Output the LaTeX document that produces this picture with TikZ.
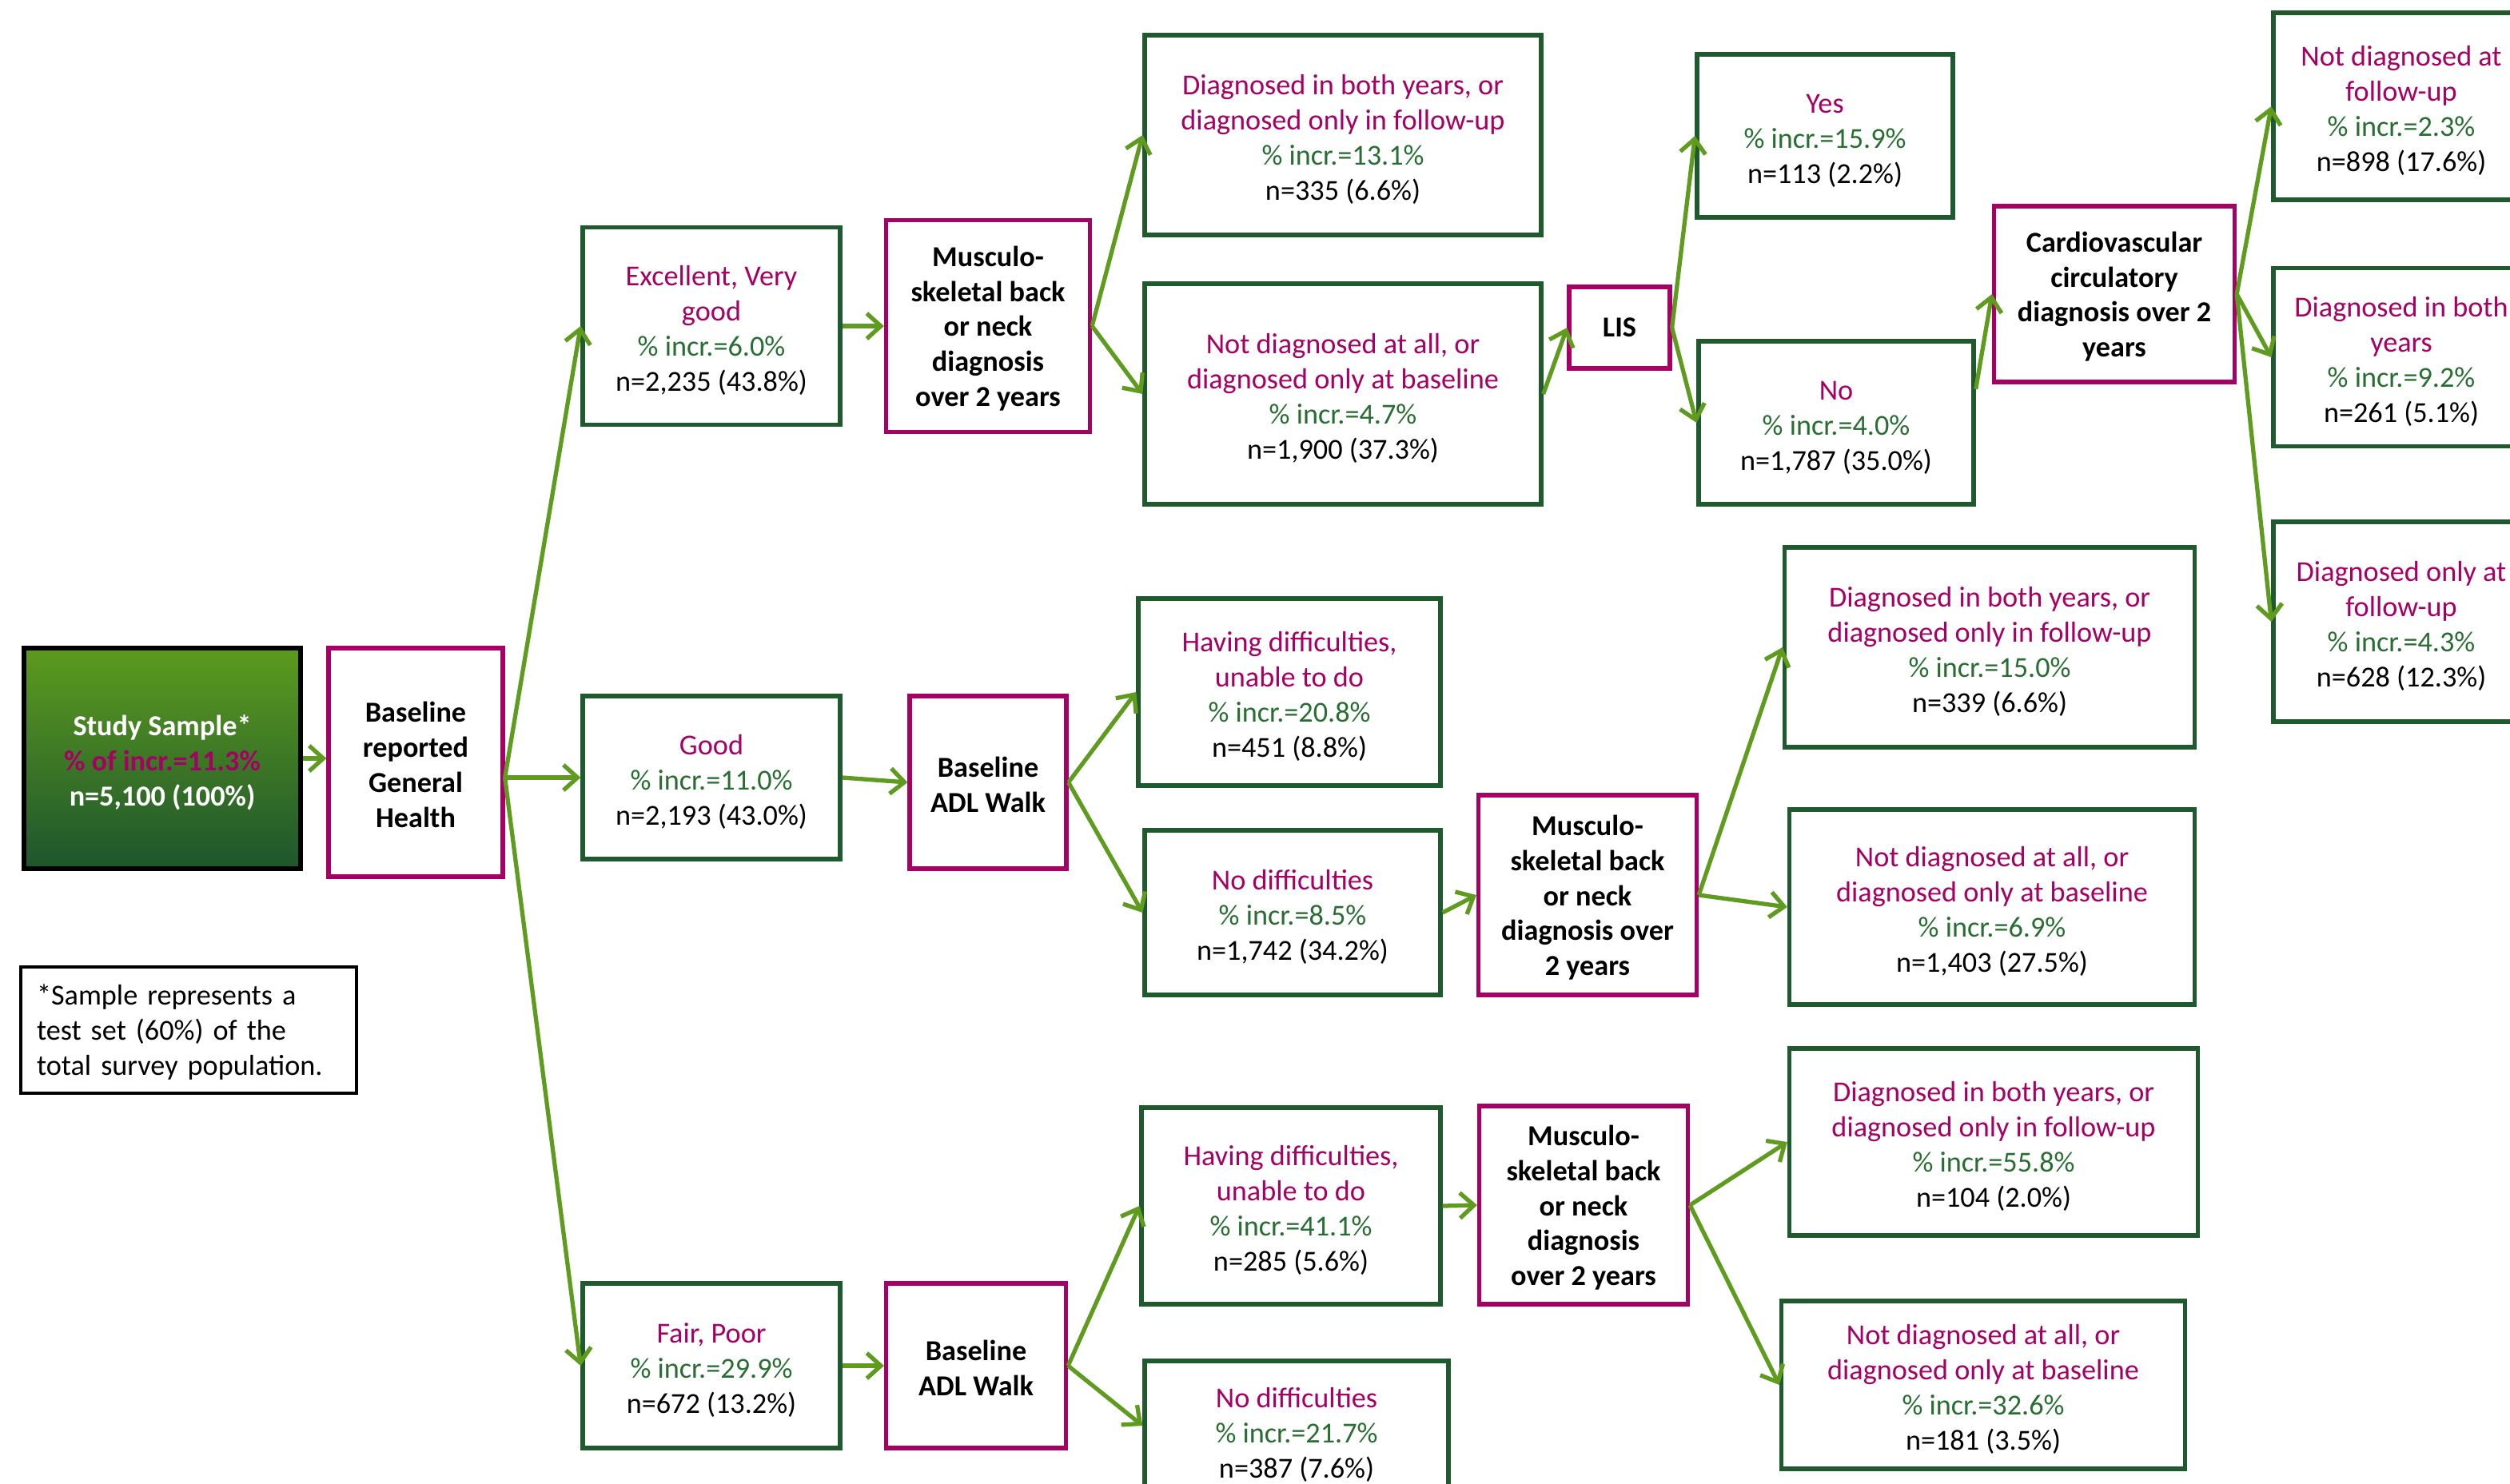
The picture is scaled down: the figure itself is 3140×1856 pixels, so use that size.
\documentclass[tikz,border=0pt]{standalone}
\usepackage{fontspec}
\setmainfont{Carlito}
\usetikzlibrary{arrows.meta,calc}
\definecolor{mag}{RGB}{165,0,100}
\definecolor{igr}{RGB}{40,110,50}
\definecolor{bgr}{RGB}{30,90,45}
\definecolor{agr}{RGB}{95,155,30}
\newcommand\mg[1]{\textcolor{mag}{\rule{0pt}{10.2pt}#1}}
\newcommand\ig[1]{\textcolor{igr}{#1}}
\newcommand\qs{\rule{0pt}{9pt}}
\begin{document}
\begin{tikzpicture}[x=0.01cm,y=-0.01cm,
 font=\fontsize{10.3}{12.5}\selectfont,
 sz/.style 2 args={minimum width=#1*0.01cm,minimum height=#2*0.01cm},
 resbox/.style={draw=bgr,line width=1.5pt,fill=white,align=center,inner sep=0pt},
 qbox/.style={draw=mag,line width=1.5pt,fill=white,align=center,inner sep=0pt,font=\fontsize{10.3}{12.5}\selectfont\bfseries},
 arr/.style={draw=agr,line width=1.5pt,-{Straight Barb[length=5pt,width=9pt]}}]
\clip (0,0) rectangle (3140,1856);
\fill[white] (0,0) rectangle (3140,1856);
% left part
\node[draw=black,line width=1.5pt,top color={rgb,255:red,92;green,155;blue,30},middle color={rgb,255:red,80;green,140;blue,32},bottom color={rgb,255:red,30;green,85;blue,45},sz={346}{276},align=center,inner sep=0pt,font=\fontsize{10.3}{12.5}\selectfont\bfseries,text=white] (study) at (203,949) {\rule{0pt}{10.2pt}Study Sample*\\\textcolor{mag}{\% of incr.=11.3\%}\\n=5,100 (100\%)};
\node[qbox,sz={218}{286}] (bgh) at (520,954) {\qs Baseline\\reported\\General\\Health};
\node[draw=black,line width=1.2pt,text width=380*0.01cm,inner xsep=20*0.01cm,inner ysep=0pt,minimum height=158*0.01cm,align=left] (foot) at (236,1289) {\rule{0pt}{9pt}*Sample represents a\\test set (60\%) of the\\total survey population.};
% first level
\node[resbox,sz={322}{247}] (exc) at (890,408) {\mg{Excellent, Very}\\\mg{good}\\\ig{\% incr.=6.0\%}\\n=2,235 (43.8\%)};
\node[resbox,sz={322}{204}] (good) at (890,973) {\mg{Good}\\\ig{\% incr.=11.0\%}\\n=2,193 (43.0\%)};
\node[resbox,sz={322}{206}] (fair) at (890,1709) {\mg{Fair, Poor}\\\ig{\% incr.=29.9\%}\\n=672 (13.2\%)};
% questions level 2
\node[qbox,sz={255}{265}] (mtop) at (1236,408) {\qs Musculo-\\skeletal back\\or neck\\diagnosis\\over 2 years};
\node[qbox,sz={196}{216}] (adlm) at (1236,979) {\qs Baseline\\ADL Walk};
\node[qbox,sz={225}{206}] (adlb) at (1221,1709) {\qs Baseline\\ADL Walk};
% top branch
\node[resbox,sz={496}{250}] (dtop) at (1680,169) {\mg{Diagnosed in both years, or}\\\mg{diagnosed only in follow-up}\\\ig{\% incr.=13.1\%}\\n=335 (6.6\%)};
\node[resbox,sz={496}{276}] (ntop) at (1680,493) {\mg{Not diagnosed at all, or}\\\mg{diagnosed only at baseline}\\\ig{\% incr.=4.7\%}\\n=1,900 (37.3\%)};
\node[qbox,sz={126}{102}] (lis) at (2026,410) {LIS};
\node[resbox,sz={320}{204}] (yes) at (2283,170) {\mg{Yes}\\\ig{\% incr.=15.9\%}\\n=113 (2.2\%)};
\node[resbox,sz={344}{204}] (no) at (2297,529) {\mg{No}\\\ig{\% incr.=4.0\%}\\n=1,787 (35.0\%)};
\node[qbox,sz={301}{220}] (cardio) at (2645,368) {\qs Cardiovascular\\circulatory\\diagnosis over 2\\years};
\node[resbox,sz={320}{234}] (r1) at (3004,133) {\mg{Not diagnosed at}\\\mg{follow-up}\\\ig{\% incr.=2.3\%}\\n=898 (17.6\%)};
\node[resbox,sz={320}{223}] (r2) at (3004,447) {\mg{Diagnosed in both}\\\mg{years}\\\ig{\% incr.=9.2\%}\\n=261 (5.1\%)};
\node[resbox,sz={320}{250}] (r3) at (3004,778) {\mg{Diagnosed only at}\\\mg{follow-up}\\\ig{\% incr.=4.3\%}\\n=628 (12.3\%)};
% middle branch
\node[resbox,sz={378}{234}] (havm) at (1613,866) {\mg{Having difficulties,}\\\mg{unable to do}\\\ig{\% incr.=20.8\%}\\n=451 (8.8\%)};
\node[resbox,sz={370}{206}] (nodm) at (1617,1142) {\mg{No difficulties}\\\ig{\% incr.=8.5\%}\\n=1,742 (34.2\%)};
\node[qbox,sz={273}{250}] (mmid) at (1986,1120) {\qs Musculo-\\skeletal back\\or neck\\diagnosis over\\2 years};
\node[resbox,sz={513}{250}] (dmid) at (2489,810) {\mg{Diagnosed in both years, or}\\\mg{diagnosed only in follow-up}\\\ig{\% incr.=15.0\%}\\n=339 (6.6\%)};
\node[resbox,sz={507}{244}] (nmid) at (2492,1135) {\mg{Not diagnosed at all, or}\\\mg{diagnosed only at baseline}\\\ig{\% incr.=6.9\%}\\n=1,403 (27.5\%)};
% bottom branch
\node[resbox,sz={374}{246}] (havb) at (1615,1509) {\mg{Having difficulties,}\\\mg{unable to do}\\\ig{\% incr.=41.1\%}\\n=285 (5.6\%)};
\node[resbox,sz={380}{174}] (nodb) at (1622,1790) {\mg{No difficulties}\\\ig{\% incr.=21.7\%}\\n=387 (7.6\%)};
\node[qbox,sz={261}{248}] (mbot) at (1981,1508) {\qs Musculo-\\skeletal back\\or neck\\diagnosis\\over 2 years};
\node[resbox,sz={511}{234}] (dbot) at (2494,1429) {\mg{Diagnosed in both years, or}\\\mg{diagnosed only in follow-up}\\\ig{\% incr.=55.8\%}\\n=104 (2.0\%)};
\node[resbox,sz={505}{210}] (nbot) at (2481,1733) {\mg{Not diagnosed at all, or}\\\mg{diagnosed only at baseline}\\\ig{\% incr.=32.6\%}\\n=181 (3.5\%)};
% connectors
\draw[arr] (study.east) -- (study.east -| bgh.west);
\coordinate (bgo) at (bgh.east |- good.west);
\draw[arr] (bgo) -- (exc.west);
\draw[arr] (bgo) -- (good.west);
\draw[arr] (bgo) -- (fair.west);
\draw[arr] (exc.east) -- (mtop.west);
\draw[arr] (mtop.east) -- (dtop.west);
\draw[arr] (mtop.east) -- (ntop.west);
\draw[arr] (ntop.east) -- (lis.west);
\draw[arr] (lis.east) -- (yes.west);
\draw[arr] (lis.east) -- (no.west);
\draw[arr] ($(no.east)+(0,-42)$) -- (cardio.west);
\draw[arr] (cardio.east) -- (r1.west);
\draw[arr] (cardio.east) -- (r2.west);
\draw[arr] (cardio.east) -- (r3.west);
\draw[arr] (good.east) -- (adlm.west);
\draw[arr] (adlm.east) -- (havm.west);
\draw[arr] (adlm.east) -- (nodm.west);
\draw[arr] (nodm.east) -- (mmid.west);
\draw[arr] (mmid.east) -- (dmid.west);
\draw[arr] (mmid.east) -- (nmid.west);
\draw[arr] (fair.east) -- (adlb.west);
\draw[arr] (adlb.east) -- (havb.west);
\draw[arr] (adlb.east) -- ($(nodb.west)+(0,-6)$);
\draw[arr] (havb.east) -- (mbot.west);
\draw[arr] (mbot.east) -- (dbot.west);
\draw[arr] (mbot.east) -- (nbot.west);
\end{tikzpicture}
\end{document}
